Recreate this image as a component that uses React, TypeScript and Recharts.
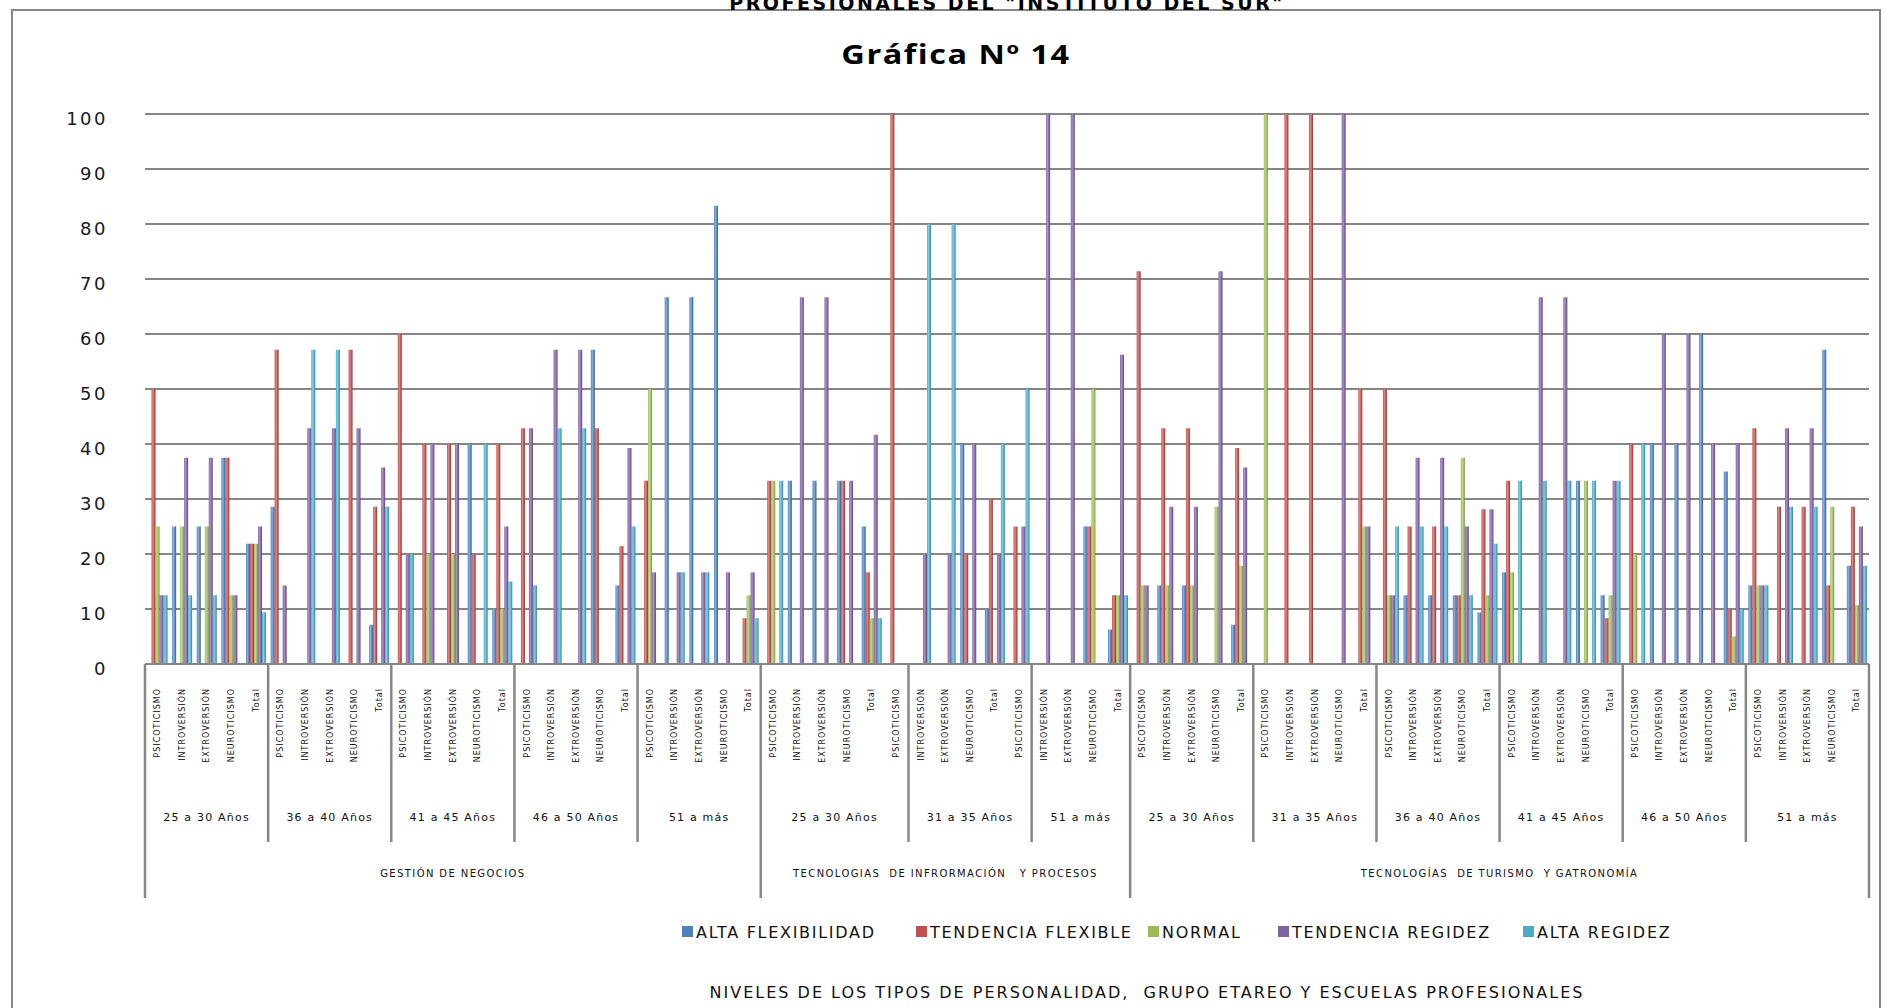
import { BarChart, Bar, XAxis, YAxis, CartesianGrid } from 'recharts';

// personality types repeated for every age group of every school
const TYPES = ['PSICOTICISMO', 'INTROVERSIÓN', 'EXTROVERSIÓN', 'NEUROTICISMO', 'Total'];

// the age labels in the source sheet are not aligned with the 5-type blocks (TI school)
const AGE_GROUPS = [
  '25 a 30 Años', '36 a 40 Años', '41 a 45 Años', '46 a 50 Años', '51 a más',
  '25 a 30 Años', '31 a 35 Años', '51 a más',
  '25 a 30 Años', '31 a 35 Años', '36 a 40 Años', '41 a 45 Años', '46 a 50 Años', '51 a más',
];
const AGE_GROUP_SIZES = [5, 5, 5, 5, 5, 6, 5, 4, 5, 5, 5, 5, 5, 5];

const SCHOOLS = [
  'GESTIÓN DE NEGOCIOS',
  'TECNOLOGIAS  DE INFRORMACIÓN   Y PROCESOS',
  'TECNOLOGÍAS  DE TURISMO  Y GATRONOMÍA',
];
const SCHOOL_SIZES = [25, 15, 30];

const CATEGORIES = AGE_GROUPS.flatMap(() => TYPES);

// percentages, one value per category (70)
const ALTA_FLEXIBILIDAD = [
  0, 25, 25, 37.5, 21.88, 28.57, 0, 0, 0, 7.14,
  0, 0, 0, 40, 10, 0, 0, 0, 57.14, 14.29,
  0, 66.67, 66.67, 83.33, 0, 0, 33.33, 33.33, 33.33, 25,
  0, 0, 0, 40, 10, 0, 0, 0, 25, 6.25,
  0, 14.29, 14.29, 0, 7.14, 0, 0, 0, 0, 0,
  0, 12.5, 12.5, 12.5, 9.38, 16.67, 0, 0, 33.33, 12.5,
  0, 40, 40, 60, 35, 14.29, 0, 0, 57.14, 17.86,
];
const TENDENCIA_FLEXIBLE = [
  50, 0, 0, 37.5, 21.88, 57.14, 0, 0, 57.14, 28.57,
  60, 40, 40, 20, 40, 42.86, 0, 0, 42.86, 21.43,
  33.33, 0, 0, 0, 8.33, 33.33, 0, 0, 33.33, 16.67,
  100, 0, 0, 20, 30, 25, 0, 0, 25, 12.5,
  71.43, 42.86, 42.86, 0, 39.29, 0, 100, 100, 0, 50,
  50, 25, 25, 12.5, 28.13, 33.33, 0, 0, 0, 8.33,
  40, 0, 0, 0, 10, 42.86, 28.57, 28.57, 14.29, 28.57,
];
const NORMAL = [
  25, 25, 25, 12.5, 21.88, 0, 0, 0, 0, 0,
  0, 20, 20, 0, 10, 0, 0, 0, 0, 0,
  50, 0, 0, 0, 12.5, 33.33, 0, 0, 0, 8.33,
  0, 0, 0, 0, 0, 0, 0, 0, 50, 12.5,
  14.29, 14.29, 14.29, 28.57, 17.86, 100, 0, 0, 0, 25,
  12.5, 0, 0, 37.5, 12.5, 16.67, 0, 0, 33.33, 12.5,
  20, 0, 0, 0, 5, 14.29, 0, 0, 28.57, 10.71,
];
const TENDENCIA_REGIDEZ = [
  12.5, 37.5, 37.5, 12.5, 25, 14.29, 42.86, 42.86, 42.86, 35.71,
  20, 40, 40, 0, 25, 42.86, 57.14, 57.14, 0, 39.29,
  16.67, 16.67, 16.67, 16.67, 16.67, 0, 66.67, 66.67, 33.33, 41.67,
  0, 20, 20, 40, 20, 25, 100, 100, 0, 56.25,
  14.29, 28.57, 28.57, 71.43, 35.71, 0, 0, 0, 100, 25,
  12.5, 37.5, 37.5, 25, 28.13, 0, 66.67, 66.67, 0, 33.33,
  0, 60, 60, 40, 40, 14.29, 42.86, 42.86, 0, 25,
];
const ALTA_REGIDEZ = [
  12.5, 12.5, 12.5, 0, 9.38, 0, 57.14, 57.14, 0, 28.57,
  20, 0, 0, 40, 15, 14.29, 42.86, 42.86, 0, 25,
  0, 16.67, 16.67, 0, 8.33, 33.33, 0, 0, 0, 8.33,
  0, 80, 80, 0, 40, 50, 0, 0, 0, 12.5,
  0, 0, 0, 0, 0, 0, 0, 0, 0, 0,
  25, 25, 25, 12.5, 21.88, 33.33, 33.33, 33.33, 33.33, 33.33,
  40, 0, 0, 0, 10, 14.29, 28.57, 28.57, 0, 17.86,
];

const Y_TICKS = [0, 10, 20, 30, 40, 50, 60, 70, 80, 90, 100];

const SERIES = [
  { key: 'altaFlex', name: 'ALTA FLEXIBILIDAD', values: ALTA_FLEXIBILIDAD, color: '#4F81BD', light: '#8DB0DA', dark: '#34578A' },
  { key: 'tendFlex', name: 'TENDENCIA FLEXIBLE', values: TENDENCIA_FLEXIBLE, color: '#C0504D', light: '#DB8A87', dark: '#8A3533' },
  { key: 'normal', name: 'NORMAL', values: NORMAL, color: '#9BBB59', light: '#C0D890', dark: '#6F8A3C' },
  { key: 'tendRig', name: 'TENDENCIA REGIDEZ', values: TENDENCIA_REGIDEZ, color: '#8064A2', light: '#A892C6', dark: '#5A4477' },
  { key: 'altaRig', name: 'ALTA REGIDEZ', values: ALTA_REGIDEZ, color: '#4BACC6', light: '#88CCDE', dark: '#2E8197' },
];

const LEGEND_X = [682, 916, 1148, 1278, 1523];

const data = CATEGORIES.map((name, i) => {
  const row: Record<string, any> = { id: i, name };
  SERIES.forEach(s => { row[s.key] = s.values[i]; });
  return row;
});

const ageStart: Record<number, { label: string; size: number }> = {};
let pos = 0;
AGE_GROUPS.forEach((label, g) => {
  ageStart[pos] = { label, size: AGE_GROUP_SIZES[g] };
  pos += AGE_GROUP_SIZES[g];
});
const schoolStart: Record<number, { label: string; size: number }> = {};
pos = 0;
SCHOOLS.forEach((label, g) => {
  schoolStart[pos] = { label, size: SCHOOL_SIZES[g] };
  pos += SCHOOL_SIZES[g];
});

const GRID = '#868686';
const FONT = 'DejaVu Sans, Verdana, sans-serif';

function CategoryTick({ x, y, payload }: any) {
  const i = payload.index ?? payload.value;
  const half = payload.offset || 12.3;
  const left = x - half;
  const age = ageStart[i];
  const school = schoolStart[i];
  return (
    <g>
      <text
        transform={`translate(${x},${y + 24}) rotate(-90)`}
        dy="0.35em"
        textAnchor="end"
        fontSize={8}
        letterSpacing={1}
        fontFamily={FONT}
        fill="#111"
      >
        {CATEGORIES[i]}
      </text>
      {age && (
        <line x1={left} x2={left} y1={y} y2={y + (school ? 234 : 178)} stroke={GRID} strokeWidth={2.5} />
      )}
      {age && (
        <text x={left + age.size * half} y={y + 153} dy="0.35em" textAnchor="middle" fontSize={11} letterSpacing={1.2} fontFamily={FONT} fill="#111" style={{ whiteSpace: 'pre' }}>
          {age.label}
        </text>
      )}
      {school && (
        <text x={left + school.size * half} y={y + 209} dy="0.35em" textAnchor="middle" fontSize={10} letterSpacing={1.4} fontFamily={FONT} fill="#111" style={{ whiteSpace: 'pre' }}>
          {school.label}
        </text>
      )}
      {i === CATEGORIES.length - 1 && (
        <line x1={x + half} x2={x + half} y1={y} y2={y + 234} stroke={GRID} strokeWidth={2.5} />
      )}
    </g>
  );
}

function ValueTick({ x, y, payload }: any) {
  return (
    <text x={x - 37} y={y + 5} dy="0.35em" textAnchor="end" fontSize={18} letterSpacing={2.5} fontFamily={FONT} fill="#1a1a1a">
      {payload.value}
    </text>
  );
}

export default function App() {
  return (
    <div style={{ position: 'absolute', left: 0, top: 0, width: 1885, height: 1008, overflow: 'hidden', background: '#fff' }}>
      <svg width={1885} height={1008} style={{ position: 'absolute', left: 0, top: 0 }}>
        <rect x={12} y={10} width={1868} height={1100} fill="none" stroke={GRID} strokeWidth={2} />
        <text x={1007} y={10} textAnchor="middle" fontFamily={FONT} fontWeight="bold" fontSize={19} letterSpacing={2.5}>
          PROFESIONALES DEL "INSTITUTO DEL SUR"
        </text>
        <text
          transform="translate(956,64) scale(1.25,1)"
          textAnchor="middle"
          fontFamily="'Open Sans', Lato, sans-serif"
          fontWeight="bold"
          fontSize={26}
          letterSpacing={1.2}
        >
          Gráfica Nº 14
        </text>
        {SERIES.map((s, k) => (
          <g key={s.key}>
            <rect x={LEGEND_X[k]} y={926} width={11} height={11} fill={s.color} />
            <text x={LEGEND_X[k] + 14} y={932} dy="0.35em" fontFamily={FONT} fontSize={16} letterSpacing={1.7} fill="#111">
              {s.name}
            </text>
          </g>
        ))}
        <text x={1147} y={992} dy="0.35em" textAnchor="middle" fontFamily={FONT} fontSize={16} letterSpacing={2} fill="#111" style={{ whiteSpace: 'pre' }}>
          NIVELES DE LOS TIPOS DE PERSONALIDAD,  GRUPO ETAREO Y ESCUELAS PROFESIONALES
        </text>
      </svg>
      <div style={{ position: 'absolute', left: 0, top: 0 }}>
        <BarChart
          width={1885}
          height={1008}
          data={data}
          margin={{ top: 114, right: 16, bottom: 0, left: 0 }}
          barCategoryGap={2.5}
          barGap={0}
        >
          <defs>
            {SERIES.map(s => (
              <linearGradient key={s.key} id={`g-${s.key}`} x1="0" y1="0" x2="1" y2="0">
                <stop offset="0%" stopColor={s.color} />
                <stop offset="35%" stopColor={s.light} />
                <stop offset="75%" stopColor={s.color} />
                <stop offset="100%" stopColor={s.dark} />
              </linearGradient>
            ))}
          </defs>
          <CartesianGrid vertical={false} stroke={GRID} strokeWidth={2} />
          <XAxis
            dataKey="id"
            type="category"
            height={344}
            interval={0}
            tickSize={0}
            tickMargin={0}
            tickLine={false}
            axisLine={{ stroke: GRID, strokeWidth: 2 }}
            tick={CategoryTick}
          />
          <YAxis
            width={145}
            domain={[0, 100]}
            ticks={Y_TICKS}
            tickSize={0}
            tickMargin={0}
            axisLine={false}
            tickLine={false}
            tick={ValueTick}
          />
          {SERIES.map(s => (
            <Bar key={s.key} dataKey={s.key} name={s.name} fill={`url(#g-${s.key})`} isAnimationActive={false} />
          ))}
        </BarChart>
      </div>
    </div>
  );
}
